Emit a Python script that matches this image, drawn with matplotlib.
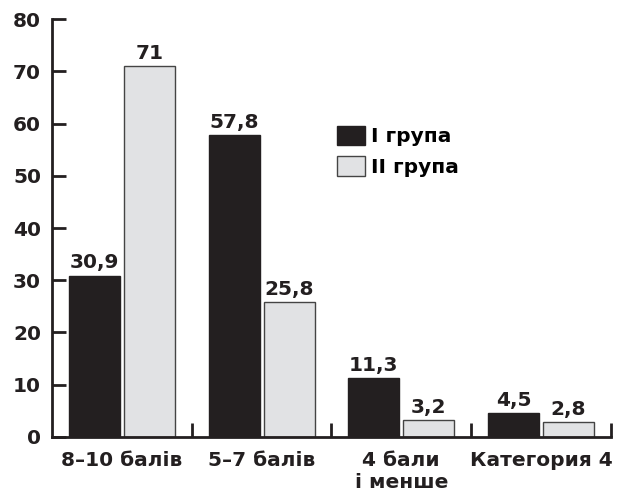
import numpy as np
import matplotlib.pyplot as plt
from matplotlib.patches import Patch

categories = ['8\u201310 балів', '5\u20137 балів', '4 бали\nі менше', 'Категория 4']
group1 = [30.9, 57.8, 11.3, 4.5]
group2 = [71, 25.8, 3.2, 2.8]
labels1 = ['30,9', '57,8', '11,3', '4,5']
labels2 = ['71', '25,8', '3,2', '2,8']
series_names = ['I група', 'II група']

plt.rcParams['font.family'] = ['DejaVu Sans']
plt.rcParams['font.weight'] = 'bold'

dark = '#231f20'
light = '#e1e2e4'
fs = 14.5

fig = plt.figure(figsize=(6.29, 4.92), dpi=100)
ax = fig.add_axes([0.083, 0.112, 0.888, 0.849])

x = np.arange(len(categories))
w = 0.365
b1 = ax.bar(x - 0.197, group1, w, color=dark, edgecolor=dark, linewidth=1)
b2 = ax.bar(x + 0.197, group2, w, color=light, edgecolor='#444444', linewidth=1)

for rect, t in zip(b1, labels1):
    ax.text(rect.get_x() + rect.get_width() / 2, rect.get_height() + 0.6, t,
            ha='center', va='bottom', fontsize=fs, fontweight='bold', color=dark)
for rect, t in zip(b2, labels2):
    ax.text(rect.get_x() + rect.get_width() / 2, rect.get_height() + 0.6, t,
            ha='center', va='bottom', fontsize=fs, fontweight='bold', color=dark)

ax.set_xlim(-0.5, 3.5)
ax.set_ylim(0, 80)
ax.set_yticks(range(0, 81, 10))
ax.tick_params(axis='y', direction='in', length=10, width=2, labelsize=fs,
               colors=dark, pad=8)

# group boundary ticks on the x axis, labels at group centres
ax.set_xticks([0.5, 1.5, 2.5, 3.5])
ax.set_xticklabels([])
ax.tick_params(axis='x', which='major', direction='in', length=10, width=2, colors=dark)
ax.set_xticks(x, minor=True)
ax.set_xticklabels(categories, minor=True, fontsize=fs, fontweight='bold',
                   linespacing=1.2)
ax.tick_params(axis='x', which='minor', length=0, pad=10, colors=dark)

for s in ['top', 'right']:
    ax.spines[s].set_visible(False)
for s in ['left', 'bottom']:
    ax.spines[s].set_linewidth(2)
    ax.spines[s].set_color(dark)

handles = [Patch(facecolor=dark, edgecolor=dark), Patch(facecolor=light, edgecolor='#444444')]
ax.legend(handles, series_names, loc='upper left', bbox_to_anchor=(0.477, 0.788),
          frameon=False, handlelength=1.4, handleheight=1.1,
          handletextpad=0.3, labelspacing=0.5, prop={'weight': 'bold', 'size': fs})

fig.savefig('out.png', dpi=100)
